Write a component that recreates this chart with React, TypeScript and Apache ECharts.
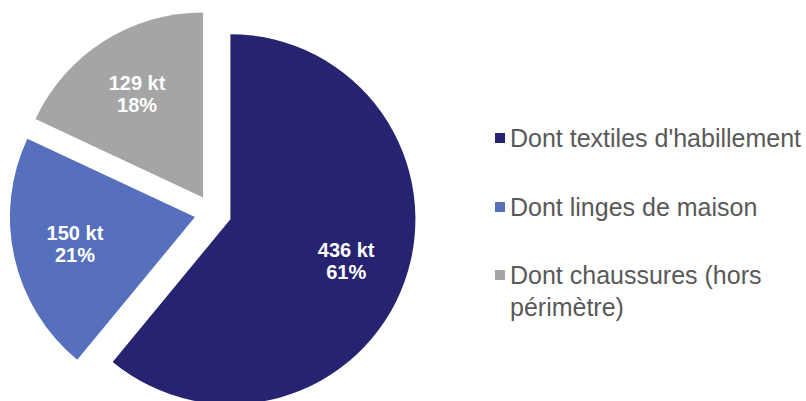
import React, { useEffect, useRef } from "react";
import * as echarts from "echarts";

const categories = [
  "Dont textiles d'habillement",
  "Dont linges de maison",
  "Dont chaussures (hors périmètre)",
];
const values = [436, 150, 129];
const colors = ["#262371", "#5670BE", "#A5A5A5"];

export default function App() {
  const ref = useRef<HTMLDivElement>(null);
  useEffect(() => {
    document.body.style.margin = "0";
    if (!ref.current) return;
    const chart = echarts.init(ref.current, undefined, { renderer: "svg" });
    const data = categories.map((name, i) => ({
      name,
      value: values[i],
      selected: true,
      itemStyle: { color: colors[i] },
    }));
    const legendText = {
      fontFamily: "Liberation Sans, Arial, sans-serif",
      fontSize: 25,
      color: "#595959",
      lineHeight: 32,
    };
    chart.setOption({
      animation: false,
      backgroundColor: "#ffffff",
      legend: [
        {
          orient: "vertical",
          left: 495,
          top: 122,
          padding: 0,
          itemGap: 37,
          itemWidth: 10,
          itemHeight: 10,
          icon: "rect",
          selectedMode: false,
          data: [categories[0], categories[1]],
          textStyle: legendText,
        },
        {
          orient: "vertical",
          left: 495,
          top: 227,
          padding: 0,
          itemWidth: 10,
          itemHeight: 10,
          icon: "rect",
          selectedMode: false,
          data: [categories[2]],
          formatter: (name: string) => "{p|}\n" + name.replace(/ (\S+)$/, "\n$1"),
          textStyle: {
            ...legendText,
            rich: { p: { lineHeight: 32, fontSize: 25 } },
          },
        },
      ],
      series: [
        {
          type: "pie",
          center: [213, 213],
          radius: 185,
          startAngle: 90,
          clockwise: true,
          selectedMode: "multiple",
          selectedOffset: 18.5,
          percentPrecision: 0,
          label: { show: false },
          labelLine: { show: false },
          itemStyle: { borderWidth: 0 },
          emphasis: { disabled: true },
          data,
        },
        {
          type: "pie",
          center: [213, 213],
          radius: [55, 185],
          startAngle: 90,
          clockwise: true,
          selectedMode: "multiple",
          selectedOffset: 18.5,
          percentPrecision: 0,
          silent: true,
          itemStyle: { color: "rgba(0,0,0,0)", borderWidth: 0 },
          emphasis: { disabled: true },
          labelLine: { show: false },
          label: {
            show: true,
            position: "inside",
            formatter: "{c} kt\n{d}%",
            color: "#ffffff",
            fontFamily: "Liberation Sans, Arial, sans-serif",
            fontWeight: "bold",
            fontSize: 20,
            lineHeight: 22,
            align: "center",
          },
          data: categories.map((name, i) => ({
            name,
            value: values[i],
            selected: true,
          })),
        },
      ],
    });
    return () => chart.dispose();
  }, []);
  return <div ref={ref} style={{ width: 806, height: 401 }} />;
}
